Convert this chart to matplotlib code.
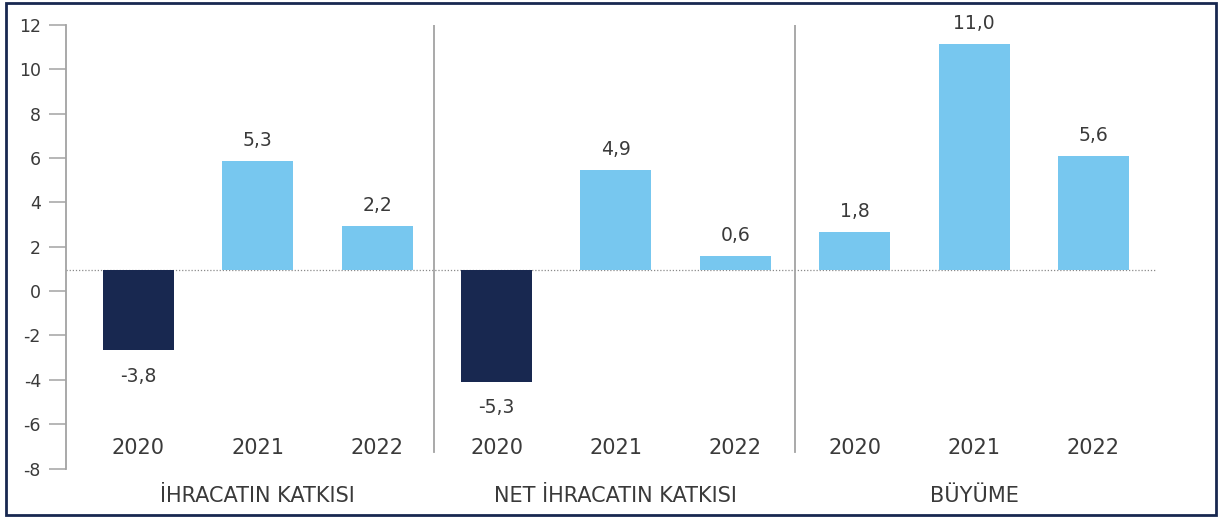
import matplotlib
matplotlib.use("Agg")
import matplotlib.pyplot as plt
from matplotlib.patches import Rectangle

# data
groups = ["İHRACATIN KATKISI", "NET İHRACATIN KATKISI", "BÜYÜME"]
years = ["2020", "2021", "2022"]
values = [[-3.8, 5.3, 2.2], [-5.3, 4.9, 0.6], [1.8, 11.0, 5.6]]
# where each bar ends on the drawn axis (bars start at the dotted base line)
bar_ends = [[-2.66, 5.86, 2.93], [-4.08, 5.45, 1.58], [2.66, 11.13, 6.08]]
base = 0.95
yticks = [12, 10, 8, 6, 4, 2, 0, -2, -4, -6, -8]

NAVY = "#182850"
BLUE = "#77c7ef"
GREY = "#a3a3a3"
TXT = "#3a3a3a"

W, H = 1219, 517
fig = plt.figure(figsize=(W / 100, H / 100), dpi=100)

# axes box in pixels: left spine at x=66, 12 at y=25, -8 at y=468
x_left, x_right = 66, 1165
y_top, y_bot = 25, 468.5
ax = fig.add_axes([x_left / W, (H - y_bot) / H, (x_right - x_left) / W, (y_bot - y_top) / H])
ax.set_xlim(-0.607, 8.6)
ax.set_ylim(-8, 12)

n = len(years)
for g, grp in enumerate(groups):
    for i, yr in enumerate(years):
        x = g * n + i
        v = values[g][i]
        end = bar_ends[g][i]
        col = NAVY if v < 0 else BLUE
        ax.bar(x, end - base, bottom=base, width=0.595, color=col, zorder=2)
        lab = f"{v:.1f}".replace(".", ",")
        if v < 0:
            ax.annotate(lab, (x, end), xytext=(0, -12), textcoords="offset points",
                        ha="center", va="top", fontsize=13.5, color=TXT)
        else:
            ax.annotate(lab, (x, end), xytext=(0, 8), textcoords="offset points",
                        ha="center", va="bottom", fontsize=13.5, color=TXT)
        ax.text(x, -7.08, yr, ha="center", va="center", fontsize=15, color=TXT)
    ax.text(g * n + 1, -9.25, grp, ha="center", va="center", fontsize=15,
            color=TXT, clip_on=False)

# base line and separators
ax.plot([-0.607, 8.52], [base, base], ls=(0, (1, 1.5)), color="#8a8a8a", lw=0.9, zorder=1)
for sx in [2.475, 5.5]:
    ax.plot([sx, sx], [12, -7.26], color=GREY, lw=1.3, zorder=1)

for s in ["top", "right", "bottom"]:
    ax.spines[s].set_visible(False)
ax.spines["left"].set_color(GREY)
ax.spines["left"].set_linewidth(1.3)
ax.set_xticks([])
ax.set_yticks(yticks)
ax.set_yticklabels([str(t) for t in yticks])
ax.tick_params(axis="y", direction="out", length=12, width=1.1, color=GREY,
               labelsize=12.5, labelcolor=TXT, pad=6)

# navy frame around the whole picture
fig.patches.append(Rectangle((6 / W, 2 / H), 1210 / W, 512 / H, transform=fig.transFigure,
                             fill=False, edgecolor=NAVY, lw=2))

fig.savefig("out.png", dpi=100)
